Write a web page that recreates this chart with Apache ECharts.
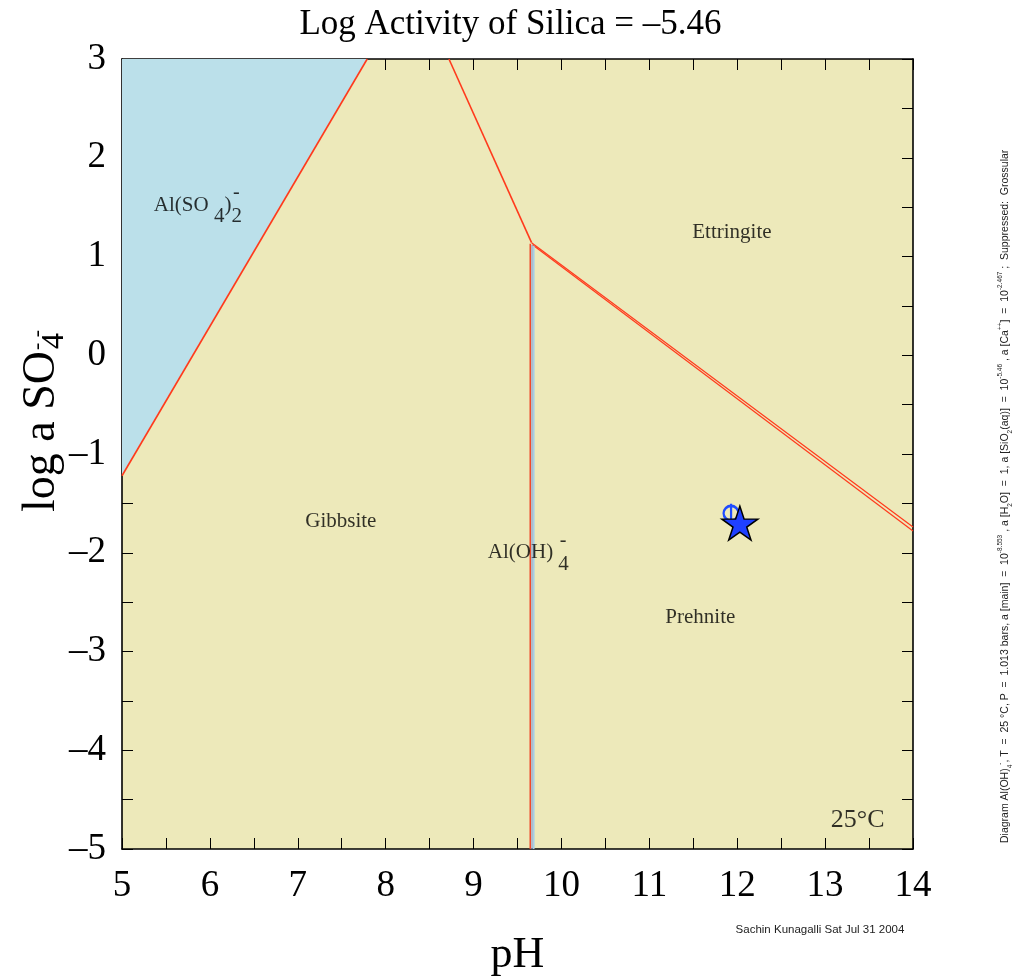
<!DOCTYPE html>
<html><head><meta charset="utf-8">
<script src="https://cdn.jsdelivr.net/npm/echarts@6/dist/echarts.min.js"></script>
<style>html,body{margin:0;padding:0;background:#fff}#c{width:1021px;height:980px}</style>
</head><body><div id="c"></div>
<script>
// ---- data ----
const titleText = 'Log Activity of Silica = \u20135.46';
const xRange = [5, 14];
const yRange = [-5, 3];
const blueRegion = [[5, 3], [7.79, 3], [5, -1.22]];
const boundaryAlSO4 = [[5, -1.22], [7.79, 3]];
const boundaryUpper = [[8.72, 3], [9.66, 1.14]];
const boundaryEttA = [[9.66, 1.14], [14, -1.74]];
const boundaryEttB = [[9.67, 1.12], [14, -1.78]];
const verticalRed = [[9.645, 1.13], [9.645, -5]];
const verticalMid = [[9.665, 1.12], [9.665, -5]];
const verticalBlue = [[9.685, 1.11], [9.685, -5]];
const samplePoint = [[12.03, -1.70]];
const markerPoint = [[11.93, -1.60]];
const fieldLabels = [
  {name: '{m|Al(SO }{s|4}{m|)}{s|2}{q|-}', value: [5.85, 1.52]},
  {name: '{m|Ettringite}', value: [11.94, 1.24]},
  {name: '{m|Gibbsite}', value: [7.49, -1.68]},
  {name: '{m|Al(OH) }{s|4}{q|-}', value: [9.61, -2.0]},
  {name: '{m|Prehnite}', value: [11.58, -2.66]},
  {name: '{t|25\u00b0C}', value: [13.37, -4.71]}
];
const footerText = 'Sachin Kunagalli Sat Jul 31 2004';
const sideText = 'Diagram Al(OH){sb|4}{sp|-}, T  =  25 \u00b0C, P  =  1.013 bars, a [main]  =  10{sp|-8.553} , a [H{sb|2}O]  =  1, a [SiO{sb|2}(aq)]  =  10{sp|-5.46} , a [Ca{sp|++}]  =  10{sp|-2.467} ;  Suppressed:  Grossular';

const SERIF = '"Liberation Serif", "Times New Roman", serif';
const SANS = '"Liberation Sans", Arial, sans-serif';

function starPath() {
  let d = '';
  for (let i = 0; i < 10; i++) {
    const r = i % 2 ? 19.1 : 50;
    const a = -Math.PI / 2 + i * Math.PI / 5;
    d += (i ? 'L' : 'M') + (r * Math.cos(a)).toFixed(2) + ',' + (r * Math.sin(a)).toFixed(2);
  }
  return 'path://' + d + 'Z';
}

const fmt = v => v < 0 ? '\u2013' + Math.abs(v) : String(v);

function xAx(pos, showLabel) {
  return {
    type: 'value', min: xRange[0], max: xRange[1], interval: 1, position: pos,
    axisLine: {show: true, onZero: false, lineStyle: {color: '#000', width: 1.6}},
    axisTick: {show: true, inside: true, length: 11, lineStyle: {color: '#000', width: 1}},
    minorTick: {show: true, splitNumber: 2, length: 11, lineStyle: {color: '#000', width: 1}},
    splitLine: {show: false}, minorSplitLine: {show: false},
    axisLabel: {show: showLabel, fontFamily: SERIF, fontSize: 37, color: '#000', margin: 19},
    name: showLabel ? 'pH' : '', nameLocation: 'middle', nameGap: 84,
    nameTextStyle: {fontFamily: SERIF, fontSize: 44, color: '#000'}
  };
}
function yAx(pos, showLabel) {
  return {
    type: 'value', min: yRange[0], max: yRange[1], interval: 1, position: pos,
    axisLine: {show: true, onZero: false, lineStyle: {color: '#000', width: 1.6}},
    axisTick: {show: true, inside: true, length: 11, lineStyle: {color: '#000', width: 1}},
    minorTick: {show: true, splitNumber: 2, length: 11, lineStyle: {color: '#000', width: 1}},
    splitLine: {show: false}, minorSplitLine: {show: false},
    axisLabel: {show: showLabel, fontFamily: SERIF, fontSize: 37, color: '#000', margin: 16, formatter: fmt}
  };
}

function lineSeries(data, color, width, z) {
  return {type: 'line', data: data, xAxisIndex: 0, yAxisIndex: 0, symbol: 'none', silent: true,
    lineStyle: {color: color, width: width}, z: z || 3, animation: false};
}

const chart = echarts.init(document.getElementById('c'));
chart.setOption({
  animation: false,
  backgroundColor: '#fff',
  title: {text: titleText, left: 'center', top: 2,
    textStyle: {fontFamily: SERIF, fontSize: 35, fontWeight: 'normal', color: '#000'}},
  grid: {left: 122, right: 108, top: 59, bottom: 131, containLabel: false, outerBoundsMode: 'none',
    show: true, backgroundColor: '#ede9ba', borderWidth: 0},
  xAxis: [xAx('bottom', true), xAx('top', false)],
  yAxis: [yAx('left', true), yAx('right', false)],
  series: [
    {type: 'custom', data: blueRegion, silent: true, z: 1,
      renderItem: function (params, api) {
        if (params.dataIndex !== 0) return;
        return {type: 'polygon', shape: {points: blueRegion.map(p => api.coord(p))}, style: {fill: '#bbe0ea'}};
      }},
    lineSeries(boundaryAlSO4, '#ff3a1c', 1.6),
    lineSeries(boundaryUpper, '#ff3a1c', 1.6),
    lineSeries(boundaryEttA, '#ff3a1c', 1.2),
    lineSeries(boundaryEttB, '#ff3a1c', 1.2),
    lineSeries(verticalBlue, '#a6cfe6', 1.6),
    lineSeries(verticalMid, '#8c9fd0', 1.2),
    lineSeries(verticalRed, '#f04a2a', 1.5),
    {type: 'scatter', data: fieldLabels, symbolSize: 0, silent: true, z: 5,
      label: {show: true, position: 'inside', formatter: '{b}', color: '#000',
        rich: {
          m: {fontFamily: SERIF, fontSize: 21, color: '#000', verticalAlign: 'middle', lineHeight: 22},
          s: {fontFamily: SERIF, fontSize: 21, color: '#000', verticalAlign: 'bottom', lineHeight: 44},
          q: {fontFamily: SERIF, fontSize: 20, color: '#000', verticalAlign: 'top', lineHeight: 44, padding: [0, 0, 0, -9]},
          t: {fontFamily: SERIF, fontSize: 26, color: '#000'}
        }}},
    {type: 'scatter', data: markerPoint, silent: true, z: 6,
      symbol: 'path://M0,-9L0,9M-7,0A7,7,0,1,1,7,0A7,7,0,1,1,-7,0',
      symbolSize: [15, 19], itemStyle: {color: 'none', borderColor: '#1f4cff', borderWidth: 2.5, opacity: 1}},
    {type: 'scatter', data: samplePoint, silent: true, z: 7,
      symbol: starPath(), symbolSize: [36, 34],
      itemStyle: {color: '#1f40ff', borderColor: '#000', borderWidth: 1.5, opacity: 1}}
  ],
  graphic: [
    {type: 'group', x: 55, y: 512, rotation: Math.PI / 2, silent: true, children: [
      {type: 'text', x: 0, y: 10, style: {text: 'log a SO', fontFamily: SERIF, fontSize: 46, fill: '#000', align: 'left', verticalAlign: 'bottom'}},
      {type: 'text', x: 163, y: 16, style: {text: '4', fontFamily: SERIF, fontSize: 32, fill: '#000', align: 'left', verticalAlign: 'bottom'}},
      {type: 'text', x: 162, y: -18, style: {text: '- -', fontFamily: SERIF, fontSize: 22, fill: '#000', align: 'left', verticalAlign: 'middle'}}
    ]},
    {type: 'group', x: 1014, y: 843, rotation: Math.PI / 2, silent: true, children: [
      {type: 'text', x: 0, y: 0, style: {text: sideText, fontFamily: SANS, fontSize: 10.5, fill: '#222', align: 'left', verticalAlign: 'bottom',
        rich: {
          sb: {fontFamily: SANS, fontSize: 6.5, fill: '#222', verticalAlign: 'bottom', lineHeight: 17},
          sp: {fontFamily: SANS, fontSize: 6.5, fill: '#222', verticalAlign: 'top', lineHeight: 17}
        }}}
    ]},
    {type: 'text', x: 820, y: 930, silent: true,
      style: {text: footerText, fontFamily: SANS, fontSize: 11.5, fill: '#222', align: 'center', verticalAlign: 'middle'}}
  ]
});
</script>
</body></html>
